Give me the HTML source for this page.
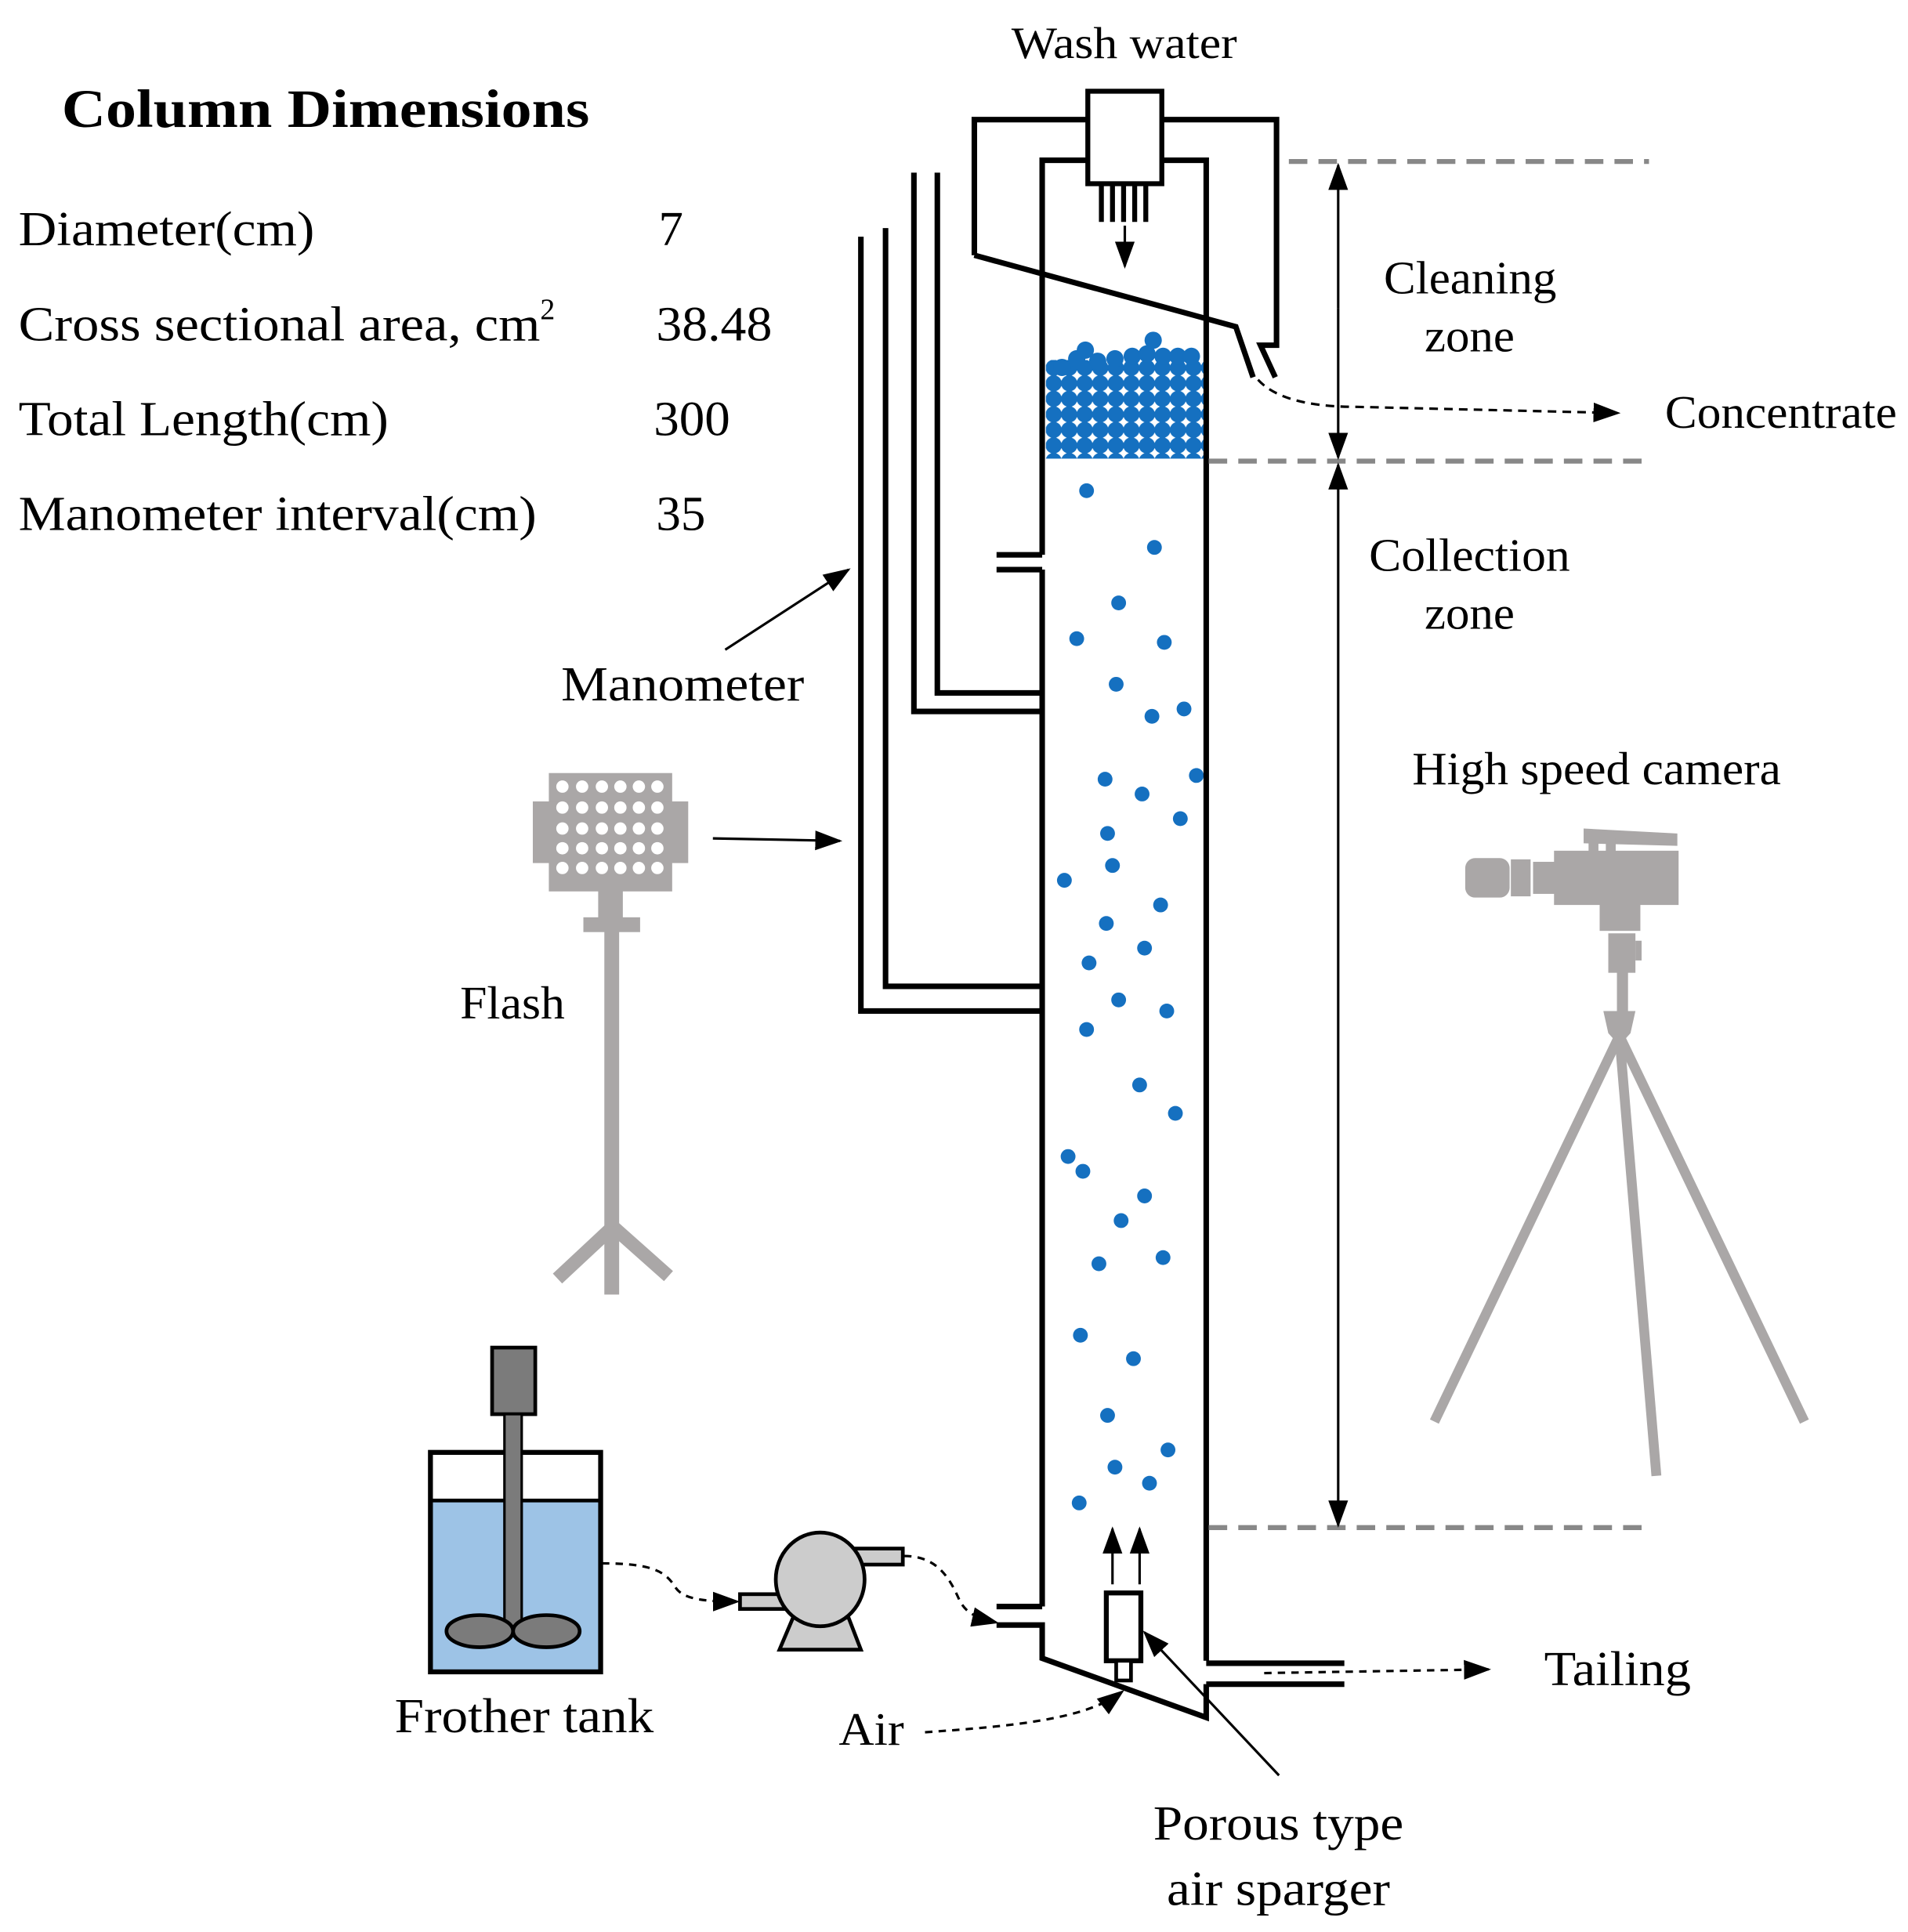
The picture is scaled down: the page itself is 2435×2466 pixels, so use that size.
<!DOCTYPE html>
<html><head><meta charset="utf-8"><style>html,body{margin:0;padding:0;background:#fff}svg{display:block}text{font-family:"Liberation Serif",serif;fill:#000}</style></head>
<body>
<svg width="2435" height="2466" viewBox="0 0 1547 1567" preserveAspectRatio="none" xmlns="http://www.w3.org/2000/svg">
<defs>
<marker id="A" markerWidth="22" markerHeight="22" refX="20" refY="11" orient="auto" markerUnits="userSpaceOnUse" viewBox="0 0 22 22"><path d="M0,3 L22,11 L0,19 Z" fill="#000"/></marker>
<pattern id="foam" x="848" y="292" width="12.6" height="12.6" patternUnits="userSpaceOnUse"><circle cx="6.3" cy="6.3" r="6.6" fill="#1570c0"/></pattern>
</defs>
<!-- table -->
<text x="50" y="103" font-size="44" font-weight="bold" textLength="428" lengthAdjust="spacingAndGlyphs">Column Dimensions</text>
<g font-size="40">
<text x="15" y="199" textLength="240" lengthAdjust="spacingAndGlyphs">Diameter(cm)</text><text x="534" y="199">7</text>
<text x="15" y="276"><tspan textLength="423" lengthAdjust="spacingAndGlyphs">Cross sectional area, cm</tspan><tspan font-size="24" dy="-17">2</tspan></text><text x="532" y="276" textLength="94" lengthAdjust="spacingAndGlyphs">38.48</text>
<text x="15" y="353" textLength="300" lengthAdjust="spacingAndGlyphs">Total Length(cm)</text><text x="530" y="353" textLength="62" lengthAdjust="spacingAndGlyphs">300</text>
<text x="15" y="430" textLength="420" lengthAdjust="spacingAndGlyphs">Manometer interval(cm)</text><text x="532" y="430" textLength="40" lengthAdjust="spacingAndGlyphs">35</text>
</g>
<!-- foam -->
<rect x="848" y="292" width="128" height="80" fill="url(#foam)"/>
<g fill="#1570c0">
<circle cx="861" cy="298" r="7"/><circle cx="873" cy="291" r="7"/><circle cx="880" cy="284" r="7"/><circle cx="890" cy="293" r="7"/><circle cx="904" cy="291" r="7"/><circle cx="918" cy="289" r="7"/><circle cx="930" cy="287" r="7"/><circle cx="935" cy="276" r="7"/><circle cx="943" cy="289" r="7"/><circle cx="955" cy="289" r="7"/><circle cx="966" cy="289" r="7"/>
</g>
<!-- scattered bubbles -->
<g fill="#1570c0">
<circle cx="881" cy="398" r="6"/><circle cx="936" cy="444" r="6"/><circle cx="907" cy="489" r="6"/><circle cx="873" cy="518" r="6"/><circle cx="944" cy="521" r="6"/><circle cx="905" cy="555" r="6"/><circle cx="934" cy="581" r="6"/><circle cx="960" cy="575" r="6"/><circle cx="896" cy="632" r="6"/><circle cx="926" cy="644" r="6"/><circle cx="970" cy="629" r="6"/><circle cx="957" cy="664" r="6"/><circle cx="898" cy="676" r="6"/><circle cx="902" cy="702" r="6"/><circle cx="863" cy="714" r="6"/><circle cx="941" cy="734" r="6"/><circle cx="897" cy="749" r="6"/><circle cx="928" cy="769" r="6"/><circle cx="883" cy="781" r="6"/><circle cx="907" cy="811" r="6"/><circle cx="946" cy="820" r="6"/><circle cx="881" cy="835" r="6"/><circle cx="924" cy="880" r="6"/><circle cx="953" cy="903" r="6"/><circle cx="866" cy="938" r="6"/><circle cx="878" cy="950" r="6"/><circle cx="928" cy="970" r="6"/><circle cx="909" cy="990" r="6"/><circle cx="891" cy="1025" r="6"/><circle cx="943" cy="1020" r="6"/><circle cx="876" cy="1083" r="6"/><circle cx="919" cy="1102" r="6"/><circle cx="898" cy="1148" r="6"/><circle cx="947" cy="1176" r="6"/><circle cx="904" cy="1190" r="6"/><circle cx="932" cy="1203" r="6"/><circle cx="875" cy="1219" r="6"/>
</g>
<!-- column -->
<g fill="none" stroke="#000" stroke-width="4.5" stroke-linejoin="miter">
<path d="M845,450 V130 H978 V1347"/>
<path d="M845,462 V1303"/>
<path d="M808,450 H845 M808,462 H845"/>
<path d="M808,1303 H845 M808,1318 H845 V1345 L978,1393 V1366"/>
<path d="M978,1349 H1090 M978,1366 H1090"/>
<path d="M698,192 V820 H845"/>
<path d="M718,185 V800 H845"/>
<path d="M741,140 V577 H845"/>
<path d="M760,140 V562 H845"/>
<path d="M790,207 V97 H1035 V280 H1022 L1034,306"/>
<path d="M790,207 L1002,265 L1016,306"/>
</g>
<rect x="882" y="74" width="60" height="75" fill="#fff" stroke="#000" stroke-width="4"/>
<path d="M893,150 V180 M902,150 V180 M911,150 V180 M920,150 V180 M929,150 V180" stroke="#000" stroke-width="4"/>
<line x1="912" y1="183" x2="912" y2="216" stroke="#000" stroke-width="2" marker-end="url(#A)"/>
<!-- concentrate -->
<path d="M1020,308 Q1040,330 1100,330 L1312,335" fill="none" stroke="#000" stroke-width="2" stroke-dasharray="7,5" marker-end="url(#A)"/>
<!-- zone dashed lines -->
<g stroke="#888" stroke-width="4" stroke-dasharray="15,9">
<line x1="1045" y1="131" x2="1337" y2="131"/><line x1="980" y1="374" x2="1337" y2="374"/><line x1="980" y1="1239" x2="1332" y2="1239"/>
</g>
<g stroke="#000" stroke-width="2">
<line x1="1085" y1="250" x2="1085" y2="134" marker-end="url(#A)"/><line x1="1085" y1="250" x2="1085" y2="371" marker-end="url(#A)"/>
<line x1="1085" y1="800" x2="1085" y2="377" marker-end="url(#A)"/><line x1="1085" y1="800" x2="1085" y2="1237" marker-end="url(#A)"/>
</g>
<g font-size="38" lengthAdjust="spacingAndGlyphs">
<text x="820" y="47" font-size="36" textLength="183" lengthAdjust="spacingAndGlyphs">Wash water</text>
<text x="1122" y="238" textLength="140" lengthAdjust="spacingAndGlyphs">Cleaning</text>
<text x="1155" y="285" textLength="73" lengthAdjust="spacingAndGlyphs">zone</text>
<text x="1110" y="463" textLength="163" lengthAdjust="spacingAndGlyphs">Collection</text>
<text x="1155" y="510" textLength="73" lengthAdjust="spacingAndGlyphs">zone</text>
<text x="1145" y="636" textLength="299" lengthAdjust="spacingAndGlyphs">High speed camera</text>
<text x="1350" y="347" textLength="188" lengthAdjust="spacingAndGlyphs">Concentrate</text>
<text x="455" y="568" font-size="40" textLength="197" lengthAdjust="spacingAndGlyphs">Manometer</text>
<text x="373" y="826" textLength="85" lengthAdjust="spacingAndGlyphs">Flash</text>
<text x="320" y="1405" font-size="40" textLength="210" lengthAdjust="spacingAndGlyphs">Frother tank</text>
<text x="680" y="1415" textLength="53" lengthAdjust="spacingAndGlyphs">Air</text>
<text x="1252" y="1367" font-size="40" textLength="119" lengthAdjust="spacingAndGlyphs">Tailing</text>
<text x="935" y="1492" font-size="40" textLength="203" lengthAdjust="spacingAndGlyphs">Porous type</text>
<text x="946" y="1545" font-size="40" textLength="181" lengthAdjust="spacingAndGlyphs">air sparger</text>
</g>
<line x1="588" y1="527" x2="688" y2="462" stroke="#000" stroke-width="2" marker-end="url(#A)"/>
<line x1="578" y1="680" x2="681" y2="682" stroke="#000" stroke-width="2" marker-end="url(#A)"/>
<!-- flash -->
<g fill="#aaa7a7">
<rect x="445" y="627" width="100" height="96"/><rect x="432" y="650" width="126" height="50"/>
<rect x="485" y="722" width="20" height="24"/><rect x="473" y="744" width="46" height="12"/>
<rect x="490" y="755" width="12" height="295"/>
</g>
<g stroke="#aaa7a7" stroke-width="11"><line x1="497" y1="995" x2="452" y2="1037"/><line x1="497" y1="995" x2="542" y2="1035"/></g>
<g fill="#fff">
<circle cx="456" cy="638" r="5"/><circle cx="472" cy="638" r="5"/><circle cx="488" cy="638" r="5"/><circle cx="503" cy="638" r="5"/><circle cx="518" cy="638" r="5"/><circle cx="533" cy="638" r="5"/>
<circle cx="456" cy="655" r="5"/><circle cx="472" cy="655" r="5"/><circle cx="488" cy="655" r="5"/><circle cx="503" cy="655" r="5"/><circle cx="518" cy="655" r="5"/><circle cx="533" cy="655" r="5"/>
<circle cx="456" cy="672" r="5"/><circle cx="472" cy="672" r="5"/><circle cx="488" cy="672" r="5"/><circle cx="503" cy="672" r="5"/><circle cx="518" cy="672" r="5"/><circle cx="533" cy="672" r="5"/>
<circle cx="456" cy="688" r="5"/><circle cx="472" cy="688" r="5"/><circle cx="488" cy="688" r="5"/><circle cx="503" cy="688" r="5"/><circle cx="518" cy="688" r="5"/><circle cx="533" cy="688" r="5"/>
<circle cx="456" cy="704" r="5"/><circle cx="472" cy="704" r="5"/><circle cx="488" cy="704" r="5"/><circle cx="503" cy="704" r="5"/><circle cx="518" cy="704" r="5"/><circle cx="533" cy="704" r="5"/>
</g>
<!-- camera -->
<g fill="#aaa7a7">
<rect x="1260" y="690" width="101" height="44"/>
<rect x="1188" y="696" width="36" height="32" rx="8"/><rect x="1225" y="697" width="16" height="30"/><rect x="1243" y="699" width="18" height="26"/>
<polygon points="1284,672 1360,676 1360,686 1284,684"/><rect x="1288" y="680" width="8" height="12"/><rect x="1302" y="680" width="8" height="12"/>
<rect x="1297" y="733" width="33" height="22"/><rect x="1304" y="757" width="22" height="32"/><rect x="1326" y="763" width="5" height="16"/>
<rect x="1311" y="788" width="9" height="35"/><polygon points="1300,820 1326,820 1322,838 1313,848 1304,838"/>
</g>
<g stroke="#aaa7a7" stroke-width="8"><line x1="1313" y1="840" x2="1163" y2="1153"/><line x1="1313" y1="840" x2="1343" y2="1197"/><line x1="1313" y1="840" x2="1463" y2="1153"/></g>
<!-- frother tank -->
<rect x="349" y="1217" width="138" height="139" fill="#9dc3e6"/>
<rect x="349" y="1178" width="138" height="178" fill="none" stroke="#000" stroke-width="4"/>
<line x1="349" y1="1217" x2="487" y2="1217" stroke="#000" stroke-width="3"/>
<rect x="399" y="1093" width="35" height="54" fill="#7b7b7b" stroke="#000" stroke-width="3"/>
<rect x="409" y="1147" width="14" height="172" fill="#7b7b7b" stroke="#000" stroke-width="2"/>
<ellipse cx="389" cy="1323" rx="27" ry="13" fill="#7b7b7b" stroke="#000" stroke-width="3"/>
<ellipse cx="443" cy="1323" rx="27" ry="13" fill="#7b7b7b" stroke="#000" stroke-width="3"/>
<!-- pump -->
<rect x="600" y="1293" width="38" height="12" fill="#ccc" stroke="#000" stroke-width="3"/>
<rect x="690" y="1256" width="42" height="13" fill="#ccc" stroke="#000" stroke-width="3"/>
<polygon points="643,1312 688,1312 698,1338 632,1338" fill="#ccc" stroke="#000" stroke-width="3"/>
<ellipse cx="665" cy="1281" rx="36" ry="38" fill="#ccc" stroke="#000" stroke-width="3"/>
<!-- dashed flows -->
<g fill="none" stroke="#000" stroke-width="2" stroke-dasharray="6,5">
<path d="M488,1268 C530,1268 540,1275 548,1288 C555,1298 575,1299 598,1299" marker-end="url(#A)"/>
<path d="M733,1262 C760,1262 770,1280 778,1298 C784,1310 795,1313 808,1316" marker-end="url(#A)"/>
<path d="M750,1405 C820,1400 880,1395 910,1372" marker-end="url(#A)"/>
<path d="M1025,1357 L1207,1354" marker-end="url(#A)"/>
</g>
<!-- sparger -->
<rect x="897" y="1292" width="28" height="55" fill="#fff" stroke="#000" stroke-width="4"/>
<rect x="905" y="1347" width="12" height="16" fill="#fff" stroke="#000" stroke-width="3"/>
<g stroke="#000" stroke-width="2"><line x1="902" y1="1285" x2="902" y2="1240" marker-end="url(#A)"/><line x1="924" y1="1285" x2="924" y2="1240" marker-end="url(#A)"/>
<line x1="1037" y1="1440" x2="928" y2="1324" marker-end="url(#A)"/></g>
</svg>
</body></html>
